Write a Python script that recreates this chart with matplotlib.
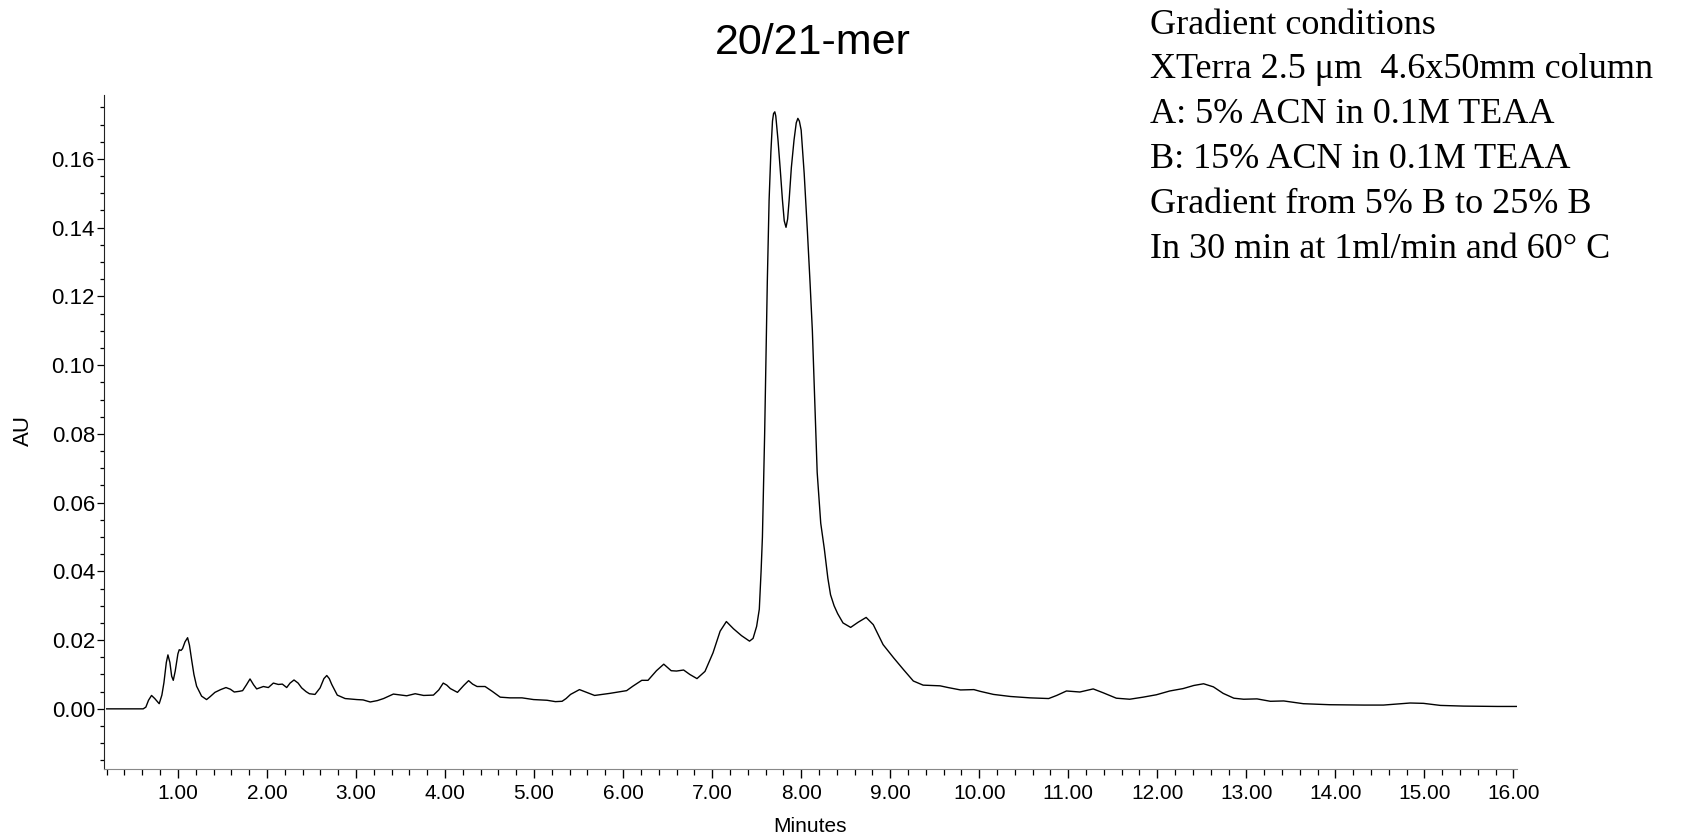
import matplotlib
matplotlib.use("Agg")
import matplotlib.pyplot as plt
from matplotlib.ticker import MultipleLocator, FormatStrFormatter

# Chromatogram trace (retention time in minutes, absorbance in AU)
t_min = [0.20, 0.40, 0.61, 0.64, 0.67, 0.704, 0.74, 0.79, 0.82, 0.843, 0.87, 0.888,
         0.91, 0.93, 0.948, 0.97, 1.00, 1.015, 1.035, 1.052, 1.08, 1.109, 1.13, 1.154,
         1.18, 1.21, 1.266, 1.322, 1.36, 1.416, 1.48, 1.54, 1.59, 1.633, 1.69, 1.727,
         1.77, 1.81, 1.85, 1.885, 1.96, 2.016, 2.072, 2.128, 2.173, 2.222, 2.26, 2.304,
         2.35, 2.39, 2.44, 2.477, 2.54, 2.597, 2.64, 2.672, 2.70, 2.728, 2.79, 2.878,
         3.01, 3.08, 3.16, 3.24, 3.31, 3.42, 3.57, 3.665, 3.76, 3.87, 3.93, 3.98, 4.02,
         4.06, 4.14, 4.21, 4.265, 4.31, 4.36, 4.45, 4.53, 4.62, 4.73, 4.865, 4.995,
         5.145, 5.24, 5.315, 5.36, 5.41, 5.51, 5.59, 5.68, 5.85, 6.04, 6.11, 6.21,
         6.28, 6.375, 6.457, 6.54, 6.60, 6.68, 6.75, 6.83, 6.92, 7.01, 7.09, 7.16,
         7.24, 7.33, 7.42, 7.46, 7.50, 7.53, 7.55, 7.565, 7.59, 7.62, 7.64, 7.66,
         7.678, 7.69, 7.704, 7.715, 7.728, 7.74, 7.765, 7.79, 7.81, 7.83, 7.848, 7.865,
         7.89, 7.92, 7.945, 7.963, 7.98, 8.00, 8.034, 8.07, 8.10, 8.126, 8.155, 8.18,
         8.22, 8.26, 8.30, 8.33, 8.37, 8.41, 8.47, 8.556, 8.64, 8.73,
         8.81, 8.92, 9.04, 9.15, 9.26, 9.37, 9.56, 9.65, 9.79, 9.94, 10.01, 10.16,
         10.35, 10.57, 10.78, 10.87, 10.98, 11.13, 11.28, 11.39, 11.54, 11.69, 11.84,
         11.99, 12.14, 12.29, 12.41, 12.52, 12.63, 12.74, 12.86, 12.97, 13.12, 13.27,
         13.42, 13.64, 13.94, 14.32, 14.54, 14.69, 14.84, 14.99, 15.18, 15.44, 15.82,
         16.04]
au = [0.0000, 0.0000, 0.0000, 0.0005, 0.0025, 0.0039, 0.0030, 0.0015, 0.0040, 0.0076,
      0.0135, 0.0157, 0.0135, 0.0095, 0.0083, 0.0110, 0.0160, 0.0172, 0.0170, 0.0175,
      0.0195, 0.0207, 0.0185, 0.0143, 0.0100, 0.0066, 0.0037, 0.0027, 0.0035, 0.0048,
      0.0056, 0.0062, 0.0057, 0.0049, 0.0051, 0.0053, 0.0070, 0.0087, 0.0070, 0.0058,
      0.0065, 0.0062, 0.0075, 0.0071, 0.0072, 0.0062, 0.0075, 0.0084, 0.0075, 0.0061,
      0.0050, 0.0044, 0.0042, 0.0061, 0.0088, 0.0097, 0.0088, 0.0071, 0.0040, 0.0030,
      0.0027, 0.0026, 0.0020, 0.0024, 0.0030, 0.0043, 0.0038, 0.0044, 0.0039, 0.0040,
      0.0055, 0.0075, 0.0069, 0.0059, 0.0048, 0.0068, 0.0082, 0.0072, 0.0065, 0.0065,
      0.0051, 0.0034, 0.0032, 0.0032, 0.0027, 0.0025, 0.0021, 0.0022, 0.0030, 0.0042,
      0.0056, 0.0048, 0.0039, 0.0045, 0.0053, 0.0066, 0.0083, 0.0083, 0.0111, 0.0130,
      0.0111, 0.0110, 0.0113, 0.0100, 0.0088, 0.0109, 0.0163, 0.0226, 0.0254, 0.0233,
      0.0213, 0.0197, 0.0205, 0.0240, 0.0290, 0.0400, 0.0500, 0.0800, 0.1244, 0.1480,
      0.1620, 0.1710, 0.1732, 0.1737, 0.1725, 0.1690, 0.1655, 0.1570, 0.1480, 0.1420,
      0.1401, 0.1425, 0.1480, 0.1575, 0.1655, 0.1705, 0.1718, 0.1710, 0.1684, 0.1558,
      0.1390, 0.1240, 0.1100, 0.0880, 0.0688, 0.0540, 0.0466, 0.0380, 0.0332, 0.0300,
      0.0277, 0.0250, 0.0237, 0.0252, 0.0266, 0.0245, 0.0187, 0.0148, 0.0114, 0.0081,
      0.0069, 0.0067, 0.0062, 0.0055, 0.0056, 0.0051, 0.0042, 0.0036, 0.0032, 0.0030,
      0.0039, 0.0052, 0.0049, 0.0058, 0.0047, 0.0031, 0.0028, 0.0034, 0.0041, 0.0052,
      0.0059, 0.0068, 0.0073, 0.0064, 0.0045, 0.0031, 0.0028, 0.0029, 0.0022, 0.0023,
      0.0015, 0.0012, 0.0011, 0.0011, 0.0014, 0.0017, 0.0016, 0.0010, 0.0008, 0.0007,
      0.0007]

title = "20/21-mer"
conditions = [
    "Gradient conditions",
    "XTerra 2.5 \u03bcm  4.6x50mm column",
    "A: 5% ACN in 0.1M TEAA",
    "B: 15% ACN in 0.1M TEAA",
    "Gradient from 5% B to 25% B",
    "In 30 min at 1ml/min and 60\u00b0 C",
]

W, H = 1690, 834
plt.rcParams["font.family"] = ["Liberation Sans", "DejaVu Sans"]

fig = plt.figure(figsize=(W / 100, H / 100), dpi=100)
ax = fig.add_axes([104 / W, 1 - 769 / H, (1517 - 104) / W, (769 - 95) / H])

ax.plot(t_min, au, color="black", linewidth=1.0)

ax.set_xlim(0.17, 16.04)
ax.set_ylim(-0.0175, 0.1786)

# axes: only left and bottom
ax.spines["top"].set_visible(False)
ax.spines["right"].set_visible(False)
ax.spines["left"].set_color("#222222")
ax.spines["bottom"].set_color("#888888")

ax.xaxis.set_major_locator(MultipleLocator(1.0))
ax.xaxis.set_minor_locator(MultipleLocator(0.2))
ax.xaxis.set_major_formatter(FormatStrFormatter("%.2f"))
ax.yaxis.set_major_locator(MultipleLocator(0.02))
ax.yaxis.set_minor_locator(MultipleLocator(0.005))
ax.yaxis.set_major_formatter(FormatStrFormatter("%.2f"))

ax.tick_params(axis="x", which="major", length=6.5, width=1.0, pad=4, labelsize=15)
ax.tick_params(axis="x", which="minor", length=4, width=0.9)
ax.tick_params(axis="y", which="major", length=5, width=0.9, pad=1.5, labelsize=16)
ax.tick_params(axis="y", which="minor", length=3, width=0.9)

fig.text(23.7 / W, 1 - 431 / H, "AU", rotation=90, ha="center", va="center", fontsize=16)
fig.text(810 / W, 1 - 827 / H, "Minutes", ha="center", va="center", fontsize=15)

fig.text(812.5 / W, 1 - 54 / H, title, ha="center", va="baseline", fontsize=31)

baselines = [33.5, 78.4, 123.3, 168.2, 213.1, 258]
for line, yb in zip(conditions, baselines):
    fig.text(1150 / W, 1 - yb / H, line, ha="left", va="baseline",
             fontsize=26, family=["Liberation Serif", "DejaVu Serif"])

fig.savefig("out.png", dpi=100)
